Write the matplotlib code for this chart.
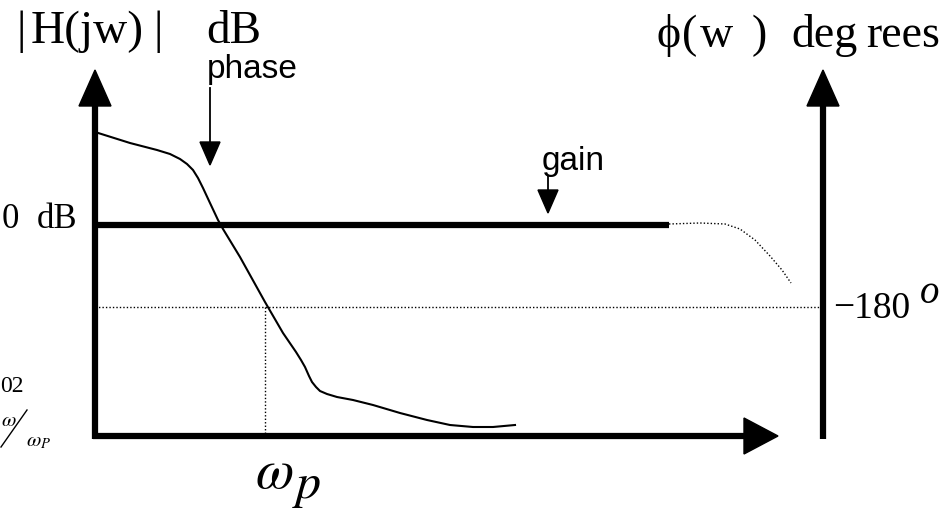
import matplotlib
matplotlib.use("Agg")
import matplotlib.pyplot as plt

plt.rcParams["mathtext.fontset"] = "stix"

# schematic coordinates (x to the right, y downwards, canvas units)
axis_left_x = 95
axis_right_x = 823
axis_bottom_y = 436
axis_top_y = 70
axis_end_x = 778

gain_level = 225
gain_end = 669
gain_tail_x = [669, 700, 725, 740, 755, 770, 782, 791]
gain_tail_y = [224, 223, 224, 229, 240, 256, 270, 283]

phase_180 = 307
w_p = 265

phase_x = [95, 130, 157, 170, 180, 187, 193, 198, 203, 210, 218, 223, 240, 265, 283, 296, 301, 305, 309,
           312, 316, 320, 327, 337, 353, 373, 400, 427, 450, 473, 493, 515]
phase_y = [132, 143, 150, 154, 159, 164, 170, 178, 188, 203, 220, 229, 257, 302, 333, 352, 360, 367, 376,
           382, 387, 391, 394, 397, 400, 405, 413, 420, 425, 427, 427, 425]

# pointer arrows: x, shaft start, tip
pointers = [(210, 88, 165), (548, 176, 213)]

fig = plt.figure(figsize=(9.48, 5.11), dpi=100)
ax = fig.add_axes([0, 0, 1, 1])
ax.set_xlim(0, 948)
ax.set_ylim(511, 0)
ax.axis("off")

serif = "Liberation Serif"
sans = "Liberation Sans"
dots = (0, (1, 1.5))

# thick axes with filled arrow heads
ax.plot([axis_left_x, axis_left_x], [axis_bottom_y + 3, 100], color="black", lw=4.5, solid_capstyle="butt")
ax.plot([axis_left_x - 2, 750], [axis_bottom_y, axis_bottom_y], color="black", lw=4.5, solid_capstyle="butt")
ax.plot([axis_right_x, axis_right_x], [axis_bottom_y + 3, 100], color="black", lw=4.5, solid_capstyle="butt")
for tip in [(axis_left_x, axis_top_y), (axis_right_x, axis_top_y)]:
    ax.add_patch(plt.Polygon([tip, (tip[0] - 16, tip[1] + 36), (tip[0] + 16, tip[1] + 36)], color="black"))
ax.add_patch(plt.Polygon([(axis_end_x, axis_bottom_y), (axis_end_x - 34, axis_bottom_y - 18),
                          (axis_end_x - 34, axis_bottom_y + 18)], color="black"))

# gain line and its dotted tail
ax.plot([axis_left_x, gain_end], [gain_level, gain_level], color="black", lw=4.5, solid_capstyle="butt")
ax.plot(gain_tail_x, gain_tail_y, color="black", lw=1.0, ls=dots)

# -180 deg reference and omega_p marker
ax.plot([axis_left_x, axis_right_x], [phase_180, phase_180], color="black", lw=1.0, ls=dots)
ax.plot([w_p, w_p], [phase_180, axis_bottom_y], color="black", lw=1.0, ls=dots)

# phase curve
ax.plot(phase_x, phase_y, color="black", lw=1.5, solid_joinstyle="round")

# pointer arrows
for x, y0, y1 in pointers:
    ax.plot([x, x], [y0, y1 - 20], color="black", lw=1.3)
    ax.add_patch(plt.Polygon([(x, y1), (x - 10, y1 - 23), (x + 10, y1 - 23)], color="black"))

# left header
ax.text(17, 43, "|", fontsize=34, family=serif, va="baseline", ha="left")
ax.text(31, 43, "H(jw)", fontsize=34, family=serif, va="baseline", ha="left")
ax.text(154, 43, "|", fontsize=34, family=serif, va="baseline", ha="left")
ax.text(206, 43, "dB", fontsize=34, family=serif, va="baseline", ha="left")

# right header
for x, s in [(657, "\u03d5"), (682, "("), (700, "w"), (752, ")"), (791, "deg"), (866, "rees")]:
    ax.text(x, 47, s, fontsize=33, family=[serif, "DejaVu Serif"], va="baseline", ha="left")

ax.text(207, 78, "phase", fontsize=24, family=sans, va="baseline", ha="left")
ax.text(542, 170, "gain", fontsize=24, family=sans, va="baseline", ha="left")
ax.text(2, 228, "0", fontsize=25, family=serif, va="baseline", ha="left")
ax.text(37, 228, "dB", fontsize=25, family=serif, va="baseline", ha="left")
ax.text(0, 392, "02", fontsize=17, family=serif, va="baseline", ha="left")
ax.text(1, 426, "$\\omega$", fontsize=15, va="baseline", ha="left")
ax.plot([1, 27], [447, 410], color="black", lw=1.0)
ax.text(26, 446, "$\\omega_P$", fontsize=15, va="baseline", ha="left")
ax.text(833, 318, "\u2212180", fontsize=27, family=serif, va="baseline", ha="left")
ax.text(920, 303, "o", fontsize=28, family=serif, style="italic", va="baseline", ha="left")
ax.text(255, 488, "$\\omega$", fontsize=40, va="baseline", ha="left")
ax.text(292, 498, "$p$", fontsize=36, va="baseline", ha="left")

fig.savefig("out.png", dpi=100)
plt.close(fig)
